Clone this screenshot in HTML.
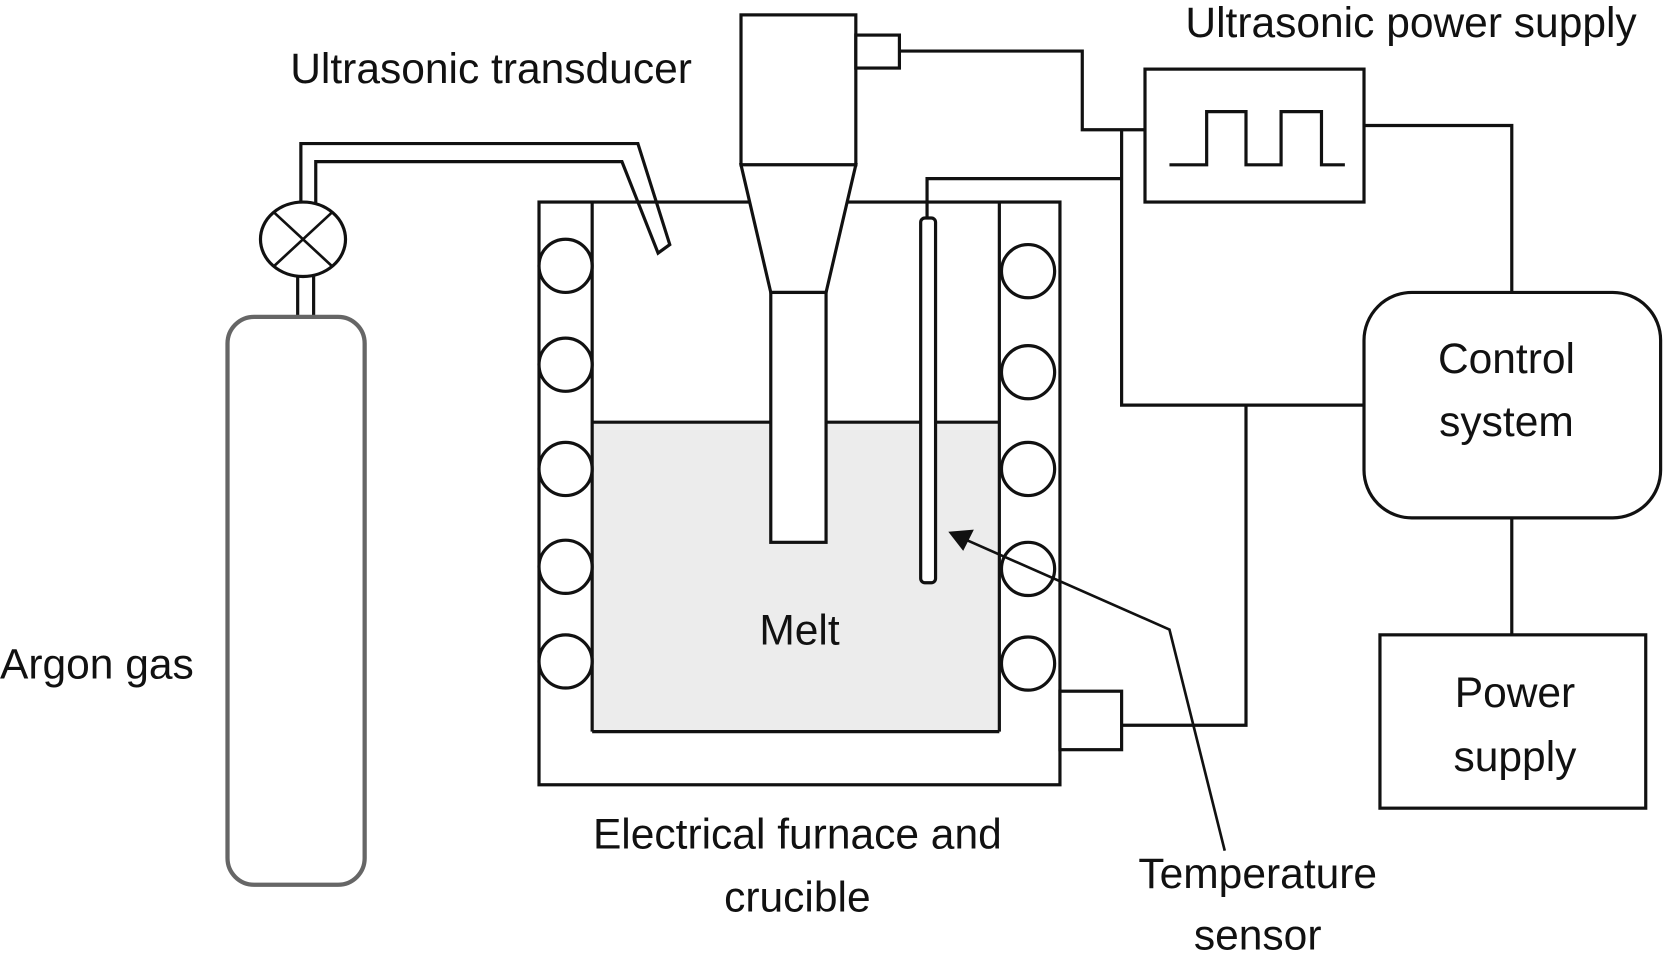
<!DOCTYPE html>
<html><head><meta charset="utf-8"><style>html,body{margin:0;padding:0;background:#fff}svg{display:block}</style></head>
<body>
<svg width="1667" height="973" viewBox="0 0 1568 915" preserveAspectRatio="none" xmlns="http://www.w3.org/2000/svg" font-family="Liberation Sans, sans-serif" font-size="40" fill="none" stroke="#111" stroke-width="3">
<rect x="0" y="0" width="1568" height="915" fill="#fff" stroke="none"/>
<!-- furnace -->
<rect x="557" y="397" width="383" height="291" fill="#ececec" stroke="none"/>
<rect x="507" y="190" width="490" height="548"/>
<line x1="557" y1="190" x2="557" y2="688"/>
<line x1="940" y1="190" x2="940" y2="688"/>
<line x1="557" y1="688" x2="940" y2="688"/>
<line x1="557" y1="397" x2="940" y2="397"/>
<g fill="#fff">
<circle cx="532" cy="250" r="25"/><circle cx="532" cy="343" r="25"/><circle cx="532" cy="441" r="25"/><circle cx="532" cy="533" r="25"/><circle cx="532" cy="622" r="25"/>
<circle cx="967" cy="255" r="25"/><circle cx="967" cy="350" r="25"/><circle cx="967" cy="441" r="25"/><circle cx="967" cy="535" r="25"/><circle cx="967" cy="624" r="25"/>
</g>
<!-- transducer -->
<rect x="697" y="14" width="108" height="141" fill="#fff"/>
<rect x="805" y="33" width="41" height="31" fill="#fff"/>
<path d="M697 155 L725 275 L777 275 L805 155 Z" fill="#fff"/>
<rect x="725" y="275" width="52" height="235" fill="#fff"/>
<!-- wires -->
<path d="M846 48 H1018 V122 H1077"/>
<path d="M1283 118 H1422 V275"/>
<path d="M1422 487 V597"/>
<path d="M1283 381 H1055 V122"/>
<path d="M1055 168 H872 V205"/>
<path d="M1172 381 V682 H1055"/>
<rect x="997" y="650" width="58" height="55" fill="#fff"/>
<!-- temperature sensor -->
<rect x="866" y="205" width="14" height="343" rx="4" fill="#fff"/>
<path d="M1152 800 L1100 592 L905 506" stroke-width="2.5"/>
<path d="M892 500 L916 498 L906 518 Z" fill="#111" stroke="none"/>
<!-- power supply box -->
<rect x="1077" y="65" width="206" height="125" fill="#fff"/>
<path d="M1100 155 H1135 V105 H1172 V155 H1205 V105 H1243 V155 H1265"/>
<rect x="1283" y="275" width="279" height="212" rx="45" fill="#fff"/>
<rect x="1298" y="597" width="250" height="163" fill="#fff"/>
<!-- gas -->
<path d="M283 195 V135 H600 L630 230 L619 238 L585 152 H297 V195"/>
<ellipse cx="285" cy="225" rx="40" ry="35" fill="#fff"/>
<path d="M258 200 L312 250 M312 200 L258 250" stroke-width="2.5"/>
<path d="M280 260 V298 M295 260 V298"/>
<rect x="214" y="298" width="129" height="534" rx="25" fill="#fff" stroke="#666" stroke-width="4"/>
<!-- text -->
<g fill="#111" stroke="none">
<text x="273" y="78">Ultrasonic transducer</text>
<text x="1115" y="35">Ultrasonic power supply</text>
<text x="1417" y="351" text-anchor="middle">Control</text>
<text x="1417" y="410" text-anchor="middle">system</text>
<text x="1425" y="665" text-anchor="middle">Power</text>
<text x="1425" y="725" text-anchor="middle">supply</text>
<text x="0" y="638">Argon gas</text>
<text x="752" y="606" text-anchor="middle">Melt</text>
<text x="750" y="798" text-anchor="middle">Electrical furnace and</text>
<text x="750" y="857" text-anchor="middle">crucible</text>
<text x="1183" y="835" text-anchor="middle">Temperature</text>
<text x="1183" y="893" text-anchor="middle">sensor</text>
</g>
</svg>
</body></html>
